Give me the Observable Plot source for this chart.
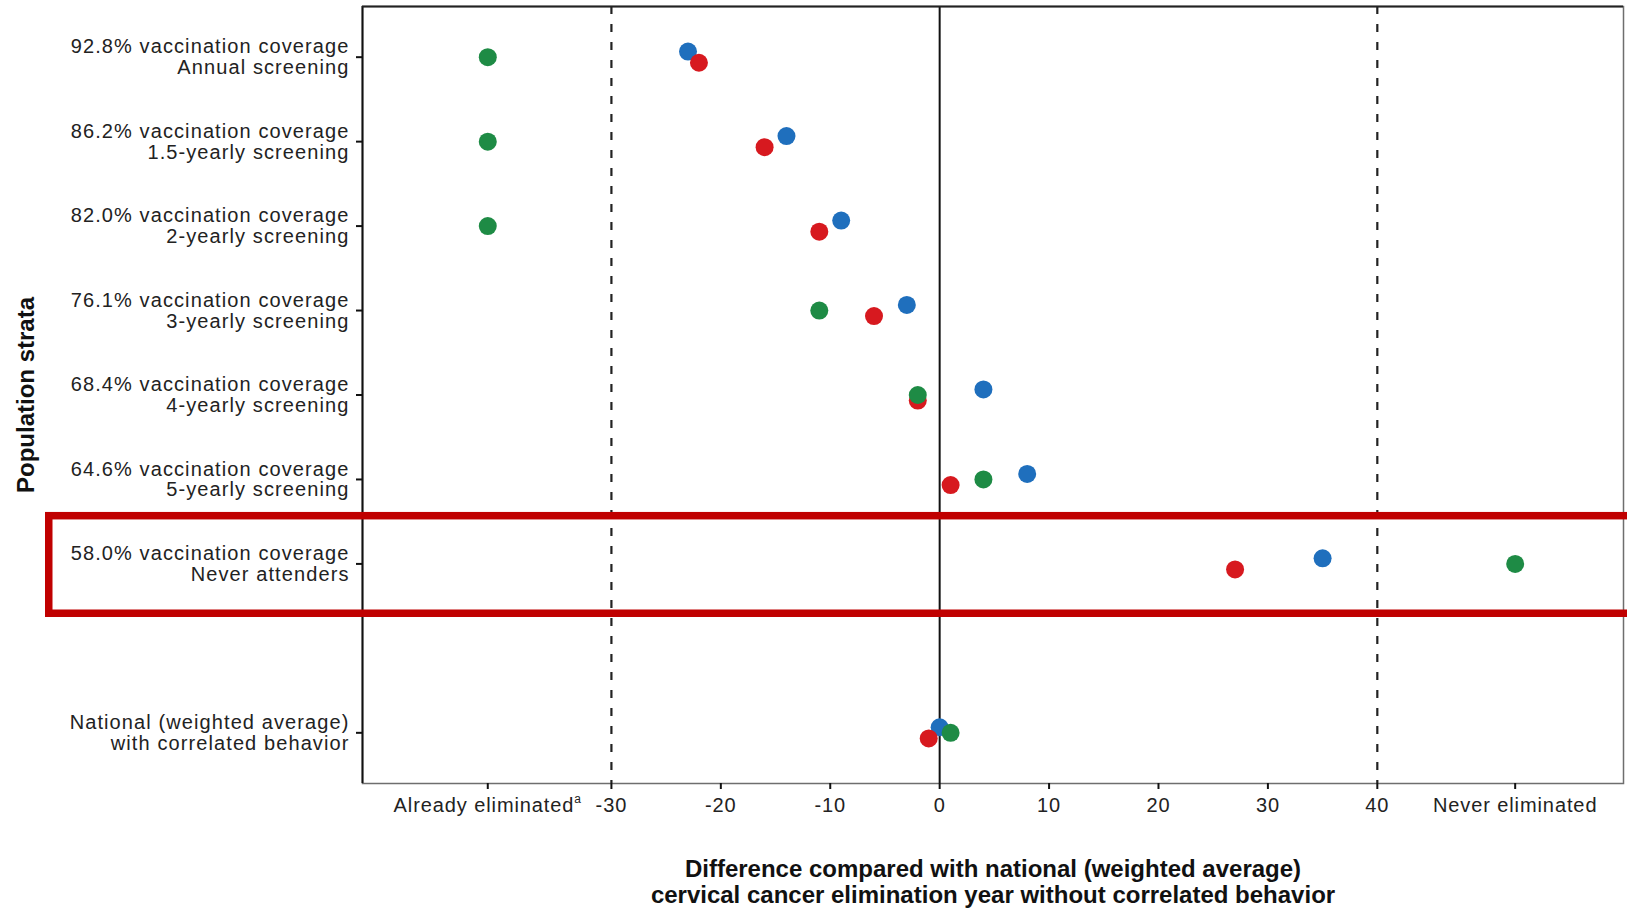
<!DOCTYPE html>
<html>
<head>
<meta charset="utf-8">
<script src="https://cdn.jsdelivr.net/npm/d3@7"></script>
<script src="https://cdn.jsdelivr.net/npm/@observablehq/plot@0.6"></script>
<style>
  html, body { margin: 0; padding: 0; background: #fff; }
  #chart { width: 1627px; height: 910px; }
  g[aria-label="y-axis tick label"] text { letter-spacing: 1.1px; }
  g[aria-label="x-axis tick label"] text { letter-spacing: 0.9px; }
  g[aria-label="x-title"] text { letter-spacing: 1.8px; }
</style>
</head>
<body>
<div id="chart"></div>
<script>
// ---------- data ----------
const categories = [
  "92.8% vaccination coverage\nAnnual screening",
  "86.2% vaccination coverage\n1.5-yearly screening",
  "82.0% vaccination coverage\n2-yearly screening",
  "76.1% vaccination coverage\n3-yearly screening",
  "68.4% vaccination coverage\n4-yearly screening",
  "64.6% vaccination coverage\n5-yearly screening",
  "58.0% vaccination coverage\nNever attenders",
  "",
  "National (weighted average)\nwith correlated behavior"
];
// "AE" = Already eliminated, "NE" = Never eliminated
const seriesBlue  = [-23, -14, -9, -3, 4, 8, 35, 0];
const seriesRed   = [-22, -16, -11, -6, -2, 1, 27, -1];
const seriesGreen = ["AE", "AE", "AE", -11, -2, 4, "NE", 1];
const seriesNames = ["Series A", "Series B", "Series C"];
const seriesColors = ["#1f6fbd", "#d7191f", "#1e8b45"];
const numericTicks = [-30, -20, -10, 0, 10, 20, 30, 40];
const specialTicks = {AE: -41.3, NE: 52.6};
const specialLabels = {AE: "Already eliminated", NE: "Never eliminated"};
const dashedRefs = [-30, 40];
const solidRefs = [0];
const highlightCategory = "58.0% vaccination coverage\nNever attenders";

// ---------- layout / style ----------
const xDomain = [-52.75, 62.5];
const yDomain = [-0.6, 8.6];
const dodge = [-0.066, 0.066, 0];
const font = "'Liberation Sans', Arial, Helvetica, sans-serif";

const rowCats = categories.filter(c => c !== "");
const rowIndex = c => categories.indexOf(c);
const toX = v => typeof v === "number" ? v : specialTicks[v];

const seriesValues = [seriesBlue, seriesRed, seriesGreen];
const points = [];
seriesNames.forEach((s, k) => {
  seriesValues[k].forEach((v, i) => {
    points.push({series: s, cat: rowCats[i], x: toX(v), y: rowIndex(rowCats[i]) + dodge[k]});
  });
});

const xTickValues = [specialTicks.AE, ...numericTicks, specialTicks.NE];
const xTickFormat = v => v === specialTicks.AE ? specialLabels.AE : v === specialTicks.NE ? specialLabels.NE : String(v);

const hi = rowIndex(highlightCategory);

const plot = Plot.plot({
  width: 1627,
  height: 910,
  marginLeft: 362,
  marginRight: 4,
  marginTop: 6,
  marginBottom: 127,
  style: {fontFamily: font, background: "#fff", overflow: "hidden"},
  x: {domain: xDomain},
  y: {domain: yDomain, reverse: true},
  color: {domain: seriesNames, range: seriesColors},
  marks: [
    Plot.frame({stroke: "#6e6e6e", strokeWidth: 1.5}),
    Plot.ruleX(dashedRefs, {stroke: "#222", strokeWidth: 2.2, strokeDasharray: "8,10"}),
    Plot.ruleX(solidRefs, {stroke: "#111", strokeWidth: 2}),
    Plot.ruleX([xDomain[0]], {stroke: "#111", strokeWidth: 2}),
    Plot.ruleY([yDomain[0]], {stroke: "#222", strokeWidth: 2.2}),
    Plot.axisX(xTickValues, {
      tickFormat: xTickFormat, tickSize: 6, tickPadding: 8,
      fontSize: 20, stroke: "#111", strokeWidth: 2, fill: "#222", label: null
    }),
    Plot.axisY(rowCats.map(rowIndex), {
      tickFormat: i => categories[i], tickSize: 6, tickPadding: 7,
      fontSize: 20, lineHeight: 1.035, stroke: "#111", strokeWidth: 2, fill: "#222", label: null
    }),
    Plot.dot(points, {x: "x", y: "y", fill: "series", r: 9}),
    Plot.text(["Difference compared with national (weighted average)\ncervical cancer elimination year without correlated behavior"], {
      frameAnchor: "bottom", text: d => d, dy: 98.5, lineAnchor: "middle", textAnchor: "middle",
      fontSize: 24, fontWeight: "bold", lineHeight: 1.083, fill: "#111", ariaLabel: "x-title"
    }),
    Plot.text(["Population strata"], {
      frameAnchor: "left", text: d => d, rotate: -90, dx: -336, textAnchor: "middle",
      fontSize: 24, fontWeight: "bold", fill: "#111", ariaLabel: "y-title"
    }),
    Plot.rect([highlightCategory], {
      x1: () => xDomain[0], x2: () => xDomain[1],
      y1: () => hi - 0.565, y2: () => hi + 0.59,
      insetLeft: -313.25, insetRight: -12,
      fill: "none", stroke: "#c00000", strokeWidth: 7.5
    })
  ]
});

document.getElementById("chart").appendChild(plot);

// superscript "a" on "Already eliminated"
d3.select(plot).selectAll('g[aria-label="x-axis tick label"] text')
  .filter(function () { return this.textContent === specialLabels.AE; })
  .append("tspan").attr("dy", "-0.7em").attr("font-size", 12).text("a");
</script>
</body>
</html>
